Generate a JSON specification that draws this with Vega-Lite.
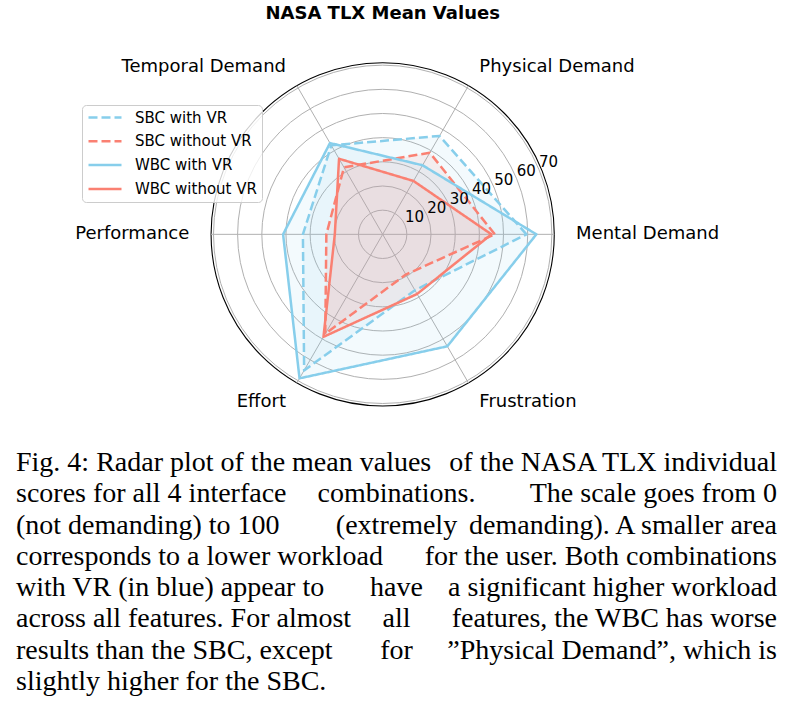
{
  "$schema": "https://vega.github.io/schema/vega-lite/v6.json",
  "padding": 0,
  "spacing": 0,
  "background": "white",
  "config": {"view": {"stroke": null}},
  "datasets": {
    "scores": [
      {"series": "SBC with VR", "feature": "Mental Demand", "k": 0, "value": 59.5},
      {"series": "SBC with VR", "feature": "Physical Demand", "k": 1, "value": 47},
      {"series": "SBC with VR", "feature": "Temporal Demand", "k": 2, "value": 42.5},
      {"series": "SBC with VR", "feature": "Performance", "k": 3, "value": 33},
      {"series": "SBC with VR", "feature": "Effort", "k": 4, "value": 65},
      {"series": "SBC with VR", "feature": "Frustration", "k": 5, "value": 26.7},
      {"series": "SBC without VR", "feature": "Mental Demand", "k": 0, "value": 46.4},
      {"series": "SBC without VR", "feature": "Physical Demand", "k": 1, "value": 39},
      {"series": "SBC without VR", "feature": "Temporal Demand", "k": 2, "value": 32},
      {"series": "SBC without VR", "feature": "Performance", "k": 3, "value": 23.3},
      {"series": "SBC without VR", "feature": "Effort", "k": 4, "value": 47.5},
      {"series": "SBC without VR", "feature": "Frustration", "k": 5, "value": 19.2},
      {"series": "WBC with VR", "feature": "Mental Demand", "k": 0, "value": 63.6},
      {"series": "WBC with VR", "feature": "Physical Demand", "k": 1, "value": 33},
      {"series": "WBC with VR", "feature": "Temporal Demand", "k": 2, "value": 43.6},
      {"series": "WBC with VR", "feature": "Performance", "k": 3, "value": 41.2},
      {"series": "WBC with VR", "feature": "Effort", "k": 4, "value": 68.8},
      {"series": "WBC with VR", "feature": "Frustration", "k": 5, "value": 53.5},
      {"series": "WBC without VR", "feature": "Mental Demand", "k": 0, "value": 45},
      {"series": "WBC without VR", "feature": "Physical Demand", "k": 1, "value": 25.5},
      {"series": "WBC without VR", "feature": "Temporal Demand", "k": 2, "value": 36.1},
      {"series": "WBC without VR", "feature": "Performance", "k": 3, "value": 19.8},
      {"series": "WBC without VR", "feature": "Effort", "k": 4, "value": 49},
      {"series": "WBC without VR", "feature": "Frustration", "k": 5, "value": 28.5}
    ],
    "features": [
      {"feature": "Mental Demand", "k": 0},
      {"feature": "Physical Demand", "k": 1},
      {"feature": "Temporal Demand", "k": 2},
      {"feature": "Performance", "k": 3},
      {"feature": "Effort", "k": 4},
      {"feature": "Frustration", "k": 5}
    ],
    "rings": [{"r": 10}, {"r": 20}, {"r": 30}, {"r": 40}, {"r": 50}, {"r": 60}, {"r": 70}],
    "caption": [
      {"line": 1, "part": 1, "text": "Fig. 4: Radar plot of the mean values"},
      {"line": 1, "part": 3, "text": "of the NASA TLX individual"},
      {"line": 2, "part": 1, "text": "scores for all 4 interface"},
      {"line": 2, "part": 2, "text": "combinations."},
      {"line": 2, "part": 3, "text": "The scale goes from 0"},
      {"line": 3, "part": 1, "text": "(not demanding) to 100"},
      {"line": 3, "part": 2, "text": "(extremely"},
      {"line": 3, "part": 3, "text": "demanding). A smaller area"},
      {"line": 4, "part": 1, "text": "corresponds to a lower workload"},
      {"line": 4, "part": 3, "text": "for the user. Both combinations"},
      {"line": 5, "part": 1, "text": "with VR (in blue) appear to"},
      {"line": 5, "part": 2, "text": "have"},
      {"line": 5, "part": 3, "text": "a significant higher workload"},
      {"line": 6, "part": 1, "text": "across all features. For almost"},
      {"line": 6, "part": 2, "text": "all"},
      {"line": 6, "part": 3, "text": "features, the WBC has worse"},
      {"line": 7, "part": 1, "text": "results than the SBC, except"},
      {"line": 7, "part": 2, "text": "for"},
      {"line": 7, "part": 3, "text": "”Physical Demand”, which is"},
      {"line": 8, "part": 1, "text": "slightly higher for the SBC."}
    ]
  },
  "vconcat": [
    {
      "width": 794,
      "height": 440,
      "layer": [
        {
          "data": {"name": "rings"},
          "mark": {"type": "arc", "filled": false, "stroke": "#b0b0b0", "strokeWidth": 1, "theta": 0, "theta2": 6.283185307179586},
          "encoding": {
            "x": {"datum": 0, "type": "quantitative", "scale": {"domain": [-71, 71], "range": [211.07, 554.27], "nice": false, "zero": false}, "axis": null},
            "y": {"datum": 0, "type": "quantitative", "scale": {"domain": [-71, 71], "range": [405.93, 62.73], "nice": false, "zero": false}, "axis": null},
            "radius": {"field": "r", "type": "quantitative", "stack": null, "scale": {"type": "linear", "domain": [0, 71], "range": [0, 171.6], "zero": true}}
          }
        },
        {
          "data": {"values": [{"rmax": 71}]},
          "mark": {"type": "arc", "filled": false, "stroke": "black", "strokeWidth": 1.1, "theta": 0, "theta2": 6.283185307179586},
          "encoding": {
            "x": {"datum": 0, "type": "quantitative", "scale": {"domain": [-71, 71], "range": [211.07, 554.27], "nice": false, "zero": false}, "axis": null},
            "y": {"datum": 0, "type": "quantitative", "scale": {"domain": [-71, 71], "range": [405.93, 62.73], "nice": false, "zero": false}, "axis": null},
            "radius": {"field": "rmax", "type": "quantitative", "stack": null, "scale": {"type": "linear", "domain": [0, 71], "range": [0, 171.6], "zero": true}}
          }
        },
        {
          "data": {"name": "features"},
          "transform": [
            {"calculate": "71*cos(datum.k*PI/3)", "as": "ex"},
            {"calculate": "71*sin(datum.k*PI/3)", "as": "ey"}
          ],
          "mark": {"type": "rule", "color": "#b0b0b0", "strokeWidth": 1},
          "encoding": {
            "x": {"field": "ex", "type": "quantitative", "scale": {"domain": [-71, 71], "range": [211.07, 554.27], "nice": false, "zero": false}, "axis": null},
            "y": {"field": "ey", "type": "quantitative", "scale": {"domain": [-71, 71], "range": [405.93, 62.73], "nice": false, "zero": false}, "axis": null},
            "x2": {"datum": 0},
            "y2": {"datum": 0}
          }
        },
        {
          "data": {"name": "scores"},
          "transform": [
            {"calculate": "datum.value*cos(datum.k*PI/3)", "as": "px"},
            {"calculate": "datum.value*sin(datum.k*PI/3)", "as": "py"}
          ],
          "mark": {"type": "line", "interpolate": "linear-closed", "stroke": "transparent", "strokeWidth": 0, "fillOpacity": 0.1},
          "encoding": {
            "x": {"field": "px", "type": "quantitative", "scale": {"domain": [-71, 71], "range": [211.07, 554.27], "nice": false, "zero": false}, "axis": null},
            "y": {"field": "py", "type": "quantitative", "scale": {"domain": [-71, 71], "range": [405.93, 62.73], "nice": false, "zero": false}, "axis": null},
            "order": {"field": "k", "type": "quantitative"},
            "fill": {"field": "series", "type": "nominal", "scale": {"range": ["#87CEEB", "#FA8072", "#87CEEB", "#FA8072"]}, "legend": null}
          }
        },
        {
          "data": {"name": "scores"},
          "transform": [
            {"calculate": "datum.value*cos(datum.k*PI/3)", "as": "px"},
            {"calculate": "datum.value*sin(datum.k*PI/3)", "as": "py"}
          ],
          "mark": {"type": "line", "interpolate": "linear-closed", "strokeWidth": 2.5, "strokeJoin": "round"},
          "encoding": {
            "x": {"field": "px", "type": "quantitative", "scale": {"domain": [-71, 71], "range": [211.07, 554.27], "nice": false, "zero": false}, "axis": null},
            "y": {"field": "py", "type": "quantitative", "scale": {"domain": [-71, 71], "range": [405.93, 62.73], "nice": false, "zero": false}, "axis": null},
            "order": {"field": "k", "type": "quantitative"},
            "color": {
              "field": "series", "type": "nominal",
              "scale": {"domain": ["SBC with VR", "SBC without VR", "WBC with VR", "WBC without VR"], "range": ["#87CEEB", "#FA8072", "#87CEEB", "#FA8072"]},
              "legend": {"title": null, "orient": "none", "legendX": 82, "legendY": 105, "symbolType": "stroke", "symbolSize": 1089, "symbolStrokeWidth": 2.5, "clipHeight": 15, "rowPadding": 7.8, "labelOffset": 12, "labelFont": "DejaVu Sans", "labelFontSize": 15, "labelColor": "black", "labelLimit": 300, "padding": 5, "fillColor": "rgba(255,255,255,0.8)", "strokeColor": "#cccccc", "cornerRadius": 4}
            },
            "strokeDash": {
              "field": "series", "type": "nominal",
              "scale": {"domain": ["SBC with VR", "SBC without VR", "WBC with VR", "WBC without VR"], "range": [[9, 4], [9, 4], [1, 0], [1, 0]]},
              "legend": {"title": null, "orient": "none", "legendX": 82, "legendY": 105, "symbolType": "stroke", "symbolSize": 1089, "symbolStrokeWidth": 2.5, "clipHeight": 15, "rowPadding": 7.8, "labelOffset": 12, "labelFont": "DejaVu Sans", "labelFontSize": 15, "labelColor": "black", "labelLimit": 300, "padding": 5, "fillColor": "rgba(255,255,255,0.8)", "strokeColor": "#cccccc", "cornerRadius": 4}
            }
          }
        },
        {
          "data": {"name": "features"},
          "transform": [
            {"filter": "datum.k == 0 || datum.k == 1 || datum.k == 5"},
            {"calculate": "80*cos(datum.k*PI/3)", "as": "lx"},
            {"calculate": "80*sin(datum.k*PI/3)", "as": "ly"}
          ],
          "mark": {"type": "text", "align": "left", "baseline": "middle", "font": "DejaVu Sans", "fontSize": 18, "color": "black"},
          "encoding": {
            "x": {"field": "lx", "type": "quantitative", "scale": {"domain": [-71, 71], "range": [211.07, 554.27], "nice": false, "zero": false}, "axis": null},
            "y": {"field": "ly", "type": "quantitative", "scale": {"domain": [-71, 71], "range": [405.93, 62.73], "nice": false, "zero": false}, "axis": null},
            "text": {"field": "feature", "type": "nominal"}
          }
        },
        {
          "data": {"name": "features"},
          "transform": [
            {"filter": "datum.k == 2 || datum.k == 3 || datum.k == 4"},
            {"calculate": "80*cos(datum.k*PI/3)", "as": "lx"},
            {"calculate": "80*sin(datum.k*PI/3)", "as": "ly"}
          ],
          "mark": {"type": "text", "align": "right", "baseline": "middle", "font": "DejaVu Sans", "fontSize": 18, "color": "black"},
          "encoding": {
            "x": {"field": "lx", "type": "quantitative", "scale": {"domain": [-71, 71], "range": [211.07, 554.27], "nice": false, "zero": false}, "axis": null},
            "y": {"field": "ly", "type": "quantitative", "scale": {"domain": [-71, 71], "range": [405.93, 62.73], "nice": false, "zero": false}, "axis": null},
            "text": {"field": "feature", "type": "nominal"}
          }
        },
        {
          "data": {"name": "rings"},
          "transform": [
            {"calculate": "datum.r*cos(PI/8)", "as": "tx"},
            {"calculate": "datum.r*sin(PI/8)", "as": "ty"}
          ],
          "mark": {"type": "text", "align": "left", "baseline": "bottom", "font": "DejaVu Sans", "fontSize": 15, "color": "black"},
          "encoding": {
            "x": {"field": "tx", "type": "quantitative", "scale": {"domain": [-71, 71], "range": [211.07, 554.27], "nice": false, "zero": false}, "axis": null},
            "y": {"field": "ty", "type": "quantitative", "scale": {"domain": [-71, 71], "range": [405.93, 62.73], "nice": false, "zero": false}, "axis": null},
            "text": {"field": "r", "type": "quantitative", "format": "d"}
          }
        },
        {
          "data": {"values": [{"label": "NASA TLX Mean Values"}]},
          "mark": {"type": "text", "align": "center", "baseline": "middle", "font": "DejaVu Sans", "fontSize": 18, "fontWeight": "bold", "color": "black"},
          "encoding": {
            "x": {"datum": 0, "type": "quantitative", "scale": {"domain": [-71, 71], "range": [211.07, 554.27], "nice": false, "zero": false}, "axis": null},
            "y": {"datum": 91.2, "type": "quantitative", "scale": {"domain": [-71, 71], "range": [405.93, 62.73], "nice": false, "zero": false}, "axis": null},
            "text": {"field": "label", "type": "nominal"}
          }
        }
      ]
    },
    {
      "width": 794,
      "height": 265,
      "data": {"name": "caption"},
      "layer": [
        {
          "transform": [{"filter": "datum.part == 1"}],
          "mark": {"type": "text", "align": "left", "baseline": "alphabetic", "font": "Liberation Serif", "fontSize": 28, "color": "black"},
          "encoding": {
            "x": {"datum": 0, "type": "quantitative", "scale": {"domain": [0, 1], "range": [16, 777], "nice": false, "zero": false}, "axis": null},
            "y": {"field": "line", "type": "quantitative", "scale": {"domain": [1, 8], "range": [31, 250], "nice": false, "zero": false}, "axis": null},
            "text": {"field": "text", "type": "nominal"}
          }
        },
        {
          "transform": [{"filter": "datum.part == 2"}],
          "mark": {"type": "text", "align": "center", "baseline": "alphabetic", "font": "Liberation Serif", "fontSize": 28, "color": "black"},
          "encoding": {
            "x": {"datum": 0.5, "type": "quantitative", "scale": {"domain": [0, 1], "range": [16, 777], "nice": false, "zero": false}, "axis": null},
            "y": {"field": "line", "type": "quantitative", "scale": {"domain": [1, 8], "range": [31, 250], "nice": false, "zero": false}, "axis": null},
            "text": {"field": "text", "type": "nominal"}
          }
        },
        {
          "transform": [{"filter": "datum.part == 3"}],
          "mark": {"type": "text", "align": "right", "baseline": "alphabetic", "font": "Liberation Serif", "fontSize": 28, "color": "black"},
          "encoding": {
            "x": {"datum": 1, "type": "quantitative", "scale": {"domain": [0, 1], "range": [16, 777], "nice": false, "zero": false}, "axis": null},
            "y": {"field": "line", "type": "quantitative", "scale": {"domain": [1, 8], "range": [31, 250], "nice": false, "zero": false}, "axis": null},
            "text": {"field": "text", "type": "nominal"}
          }
        }
      ]
    }
  ]
}
